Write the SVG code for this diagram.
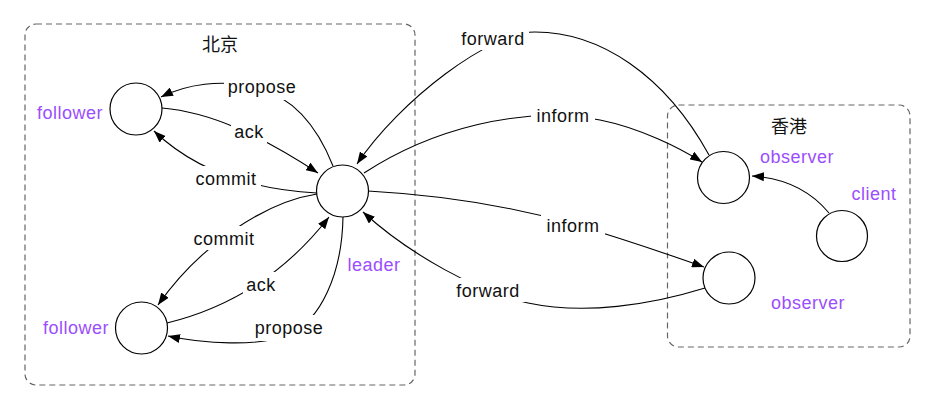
<svg xmlns="http://www.w3.org/2000/svg" width="927" height="404" viewBox="0 0 927 404">
<style>
.box{fill:none;stroke:#666;stroke-width:1.2;stroke-dasharray:6 4}
.node{fill:#fff;stroke:#000;stroke-width:1.2}
.edge{fill:none;stroke:#000;stroke-width:1.1;marker-end:url(#arr)}
.lbl{font-family:"Liberation Sans",Arial,sans-serif;font-size:18px;letter-spacing:0.5px;fill:#111;text-anchor:middle}
.pur{font-family:"Liberation Sans",Arial,sans-serif;font-size:18px;letter-spacing:0.5px;fill:#9b4dff;text-anchor:middle}
.cjk{font-family:"Liberation Sans","Noto Sans CJK SC",sans-serif;font-size:18px;fill:#111;text-anchor:middle}
.bg{fill:#fff}
</style>
<defs>
<marker id="arr" viewBox="0 0 12 9" refX="12" refY="4.5" markerWidth="12" markerHeight="9" markerUnits="userSpaceOnUse" orient="auto">
<path d="M0,0 L12,4.5 L0,9 z" fill="#000"/>
</marker>
</defs>
<rect width="927" height="404" fill="#fff"/>
<g id="beijing">
<rect class="box" x="25" y="24" width="390" height="361" rx="11"/>
<text class="cjk" x="220" y="51">北京</text>
</g>
<g id="hongkong">
<rect class="box" x="667.5" y="105" width="242.5" height="242" rx="11"/>
<text class="cjk" x="789" y="133">香港</text>
</g>
<g id="connectors">
<path class="edge" d="M333,166 C318,128 295,98 258,88 S185,85 161,97"/>
<path class="edge" d="M162,108 C210,112 260,135 318,173"/>
<path class="edge" d="M317,193 C260,190 200,175 154,131"/>
<path class="edge" d="M317,194 C265,202 200,245 158,305"/>
<path class="edge" d="M167,323 C220,310 280,280 329,217"/>
<path class="edge" d="M343,217 C342,275 320,320 290,334 S200,343 168,336"/>
<path class="edge" d="M709,155 C665,75 600,32 535,32 C490,32 400,100 357,164"/>
<path class="edge" d="M364,173 C430,130 520,105 600,120 C640,128 680,148 702,162"/>
<path class="edge" d="M368,191 C440,195 510,206 573,224 C620,238 670,255 704,267"/>
<path class="edge" d="M705,288 C650,305 585,315 528,303 C480,293 410,255 363,212"/>
<path class="edge" d="M829,213 C810,190 785,178 752,176"/>
<g id="edge-labels">
<rect class="bg" x="224" y="74" width="76" height="26"/><text class="lbl" x="262" y="93">propose</text>
<rect class="bg" x="231" y="119" width="36" height="24"/><text class="lbl" x="249" y="138">ack</text>
<rect class="bg" x="192" y="166" width="69" height="24"/><text class="lbl" x="226" y="185">commit</text>
<rect class="bg" x="189" y="226" width="69" height="24"/><text class="lbl" x="224" y="245">commit</text>
<rect class="bg" x="243" y="272" width="36" height="24"/><text class="lbl" x="261" y="291">ack</text>
<rect class="bg" x="252" y="315" width="74" height="26"/><text class="lbl" x="289" y="334">propose</text>
<rect class="bg" x="456" y="26" width="73" height="24"/><text class="lbl" x="493" y="45">forward</text>
<rect class="bg" x="531" y="103" width="64" height="24"/><text class="lbl" x="563" y="122">inform</text>
<rect class="bg" x="541" y="213" width="64" height="24"/><text class="lbl" x="573" y="232">inform</text>
<rect class="bg" x="451" y="278" width="74" height="24"/><text class="lbl" x="488" y="297">forward</text>
</g>
</g>
<g id="follower1">
<circle class="node" cx="136" cy="109" r="26"/>
<text class="pur" x="70" y="119">follower</text>
</g>
<g id="leader">
<circle class="node" cx="342.5" cy="191" r="26"/>
<text class="pur" x="374" y="271">leader</text>
</g>
<g id="follower2">
<circle class="node" cx="141.5" cy="328" r="26"/>
<text class="pur" x="76" y="334">follower</text>
</g>
<g id="observer1">
<circle class="node" cx="723.5" cy="177.5" r="26"/>
<text class="pur" x="797" y="163">observer</text>
</g>
<g id="observer2">
<circle class="node" cx="729" cy="278" r="26"/>
<text class="pur" x="808" y="309">observer</text>
</g>
<g id="client">
<circle class="node" cx="842" cy="236" r="25.5"/>
<text class="pur" x="874" y="200">client</text>
</g>
</svg>
